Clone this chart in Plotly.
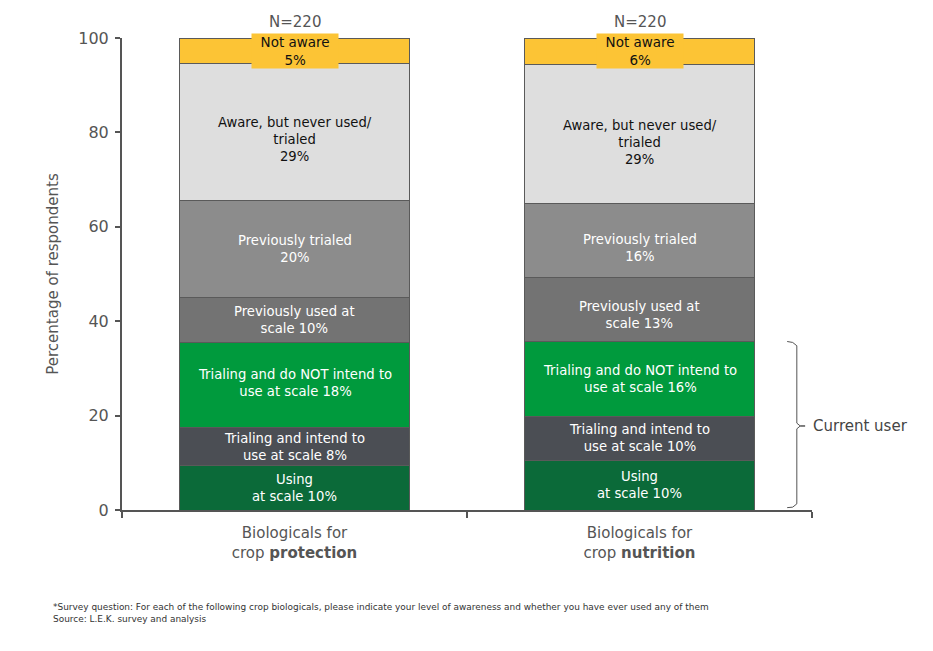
import plotly.graph_objects as go
import numpy as np

categories = ["Biologicals for<br>crop <b>protection</b>", "Biologicals for<br>crop <b>nutrition</b>"]
series_names = ["Using at scale", "Trialing and intend to use at scale",
                "Trialing and do NOT intend to use at scale", "Previously used at scale",
                "Previously trialed", "Aware, but never used/trialed", "Not aware"]
protection = [9.5, 7.9, 18.0, 9.7, 20.4, 29.2, 5.3]
nutrition = [10.4, 9.5, 15.7, 13.6, 15.8, 29.3, 5.7]
protection_labels = ["Using<br>at scale 10%", "Trialing and intend to<br>use at scale 8%",
                     "Trialing and do NOT intend to<br>use at scale 18%", "Previously used at<br>scale 10%",
                     "Previously trialed<br>20%", "Aware, but never used/<br>trialed<br>29%", "Not aware<br>5%"]
nutrition_labels = ["Using<br>at scale 10%", "Trialing and intend to<br>use at scale 10%",
                    "Trialing and do NOT intend to<br>use at scale 16%", "Previously used at<br>scale 13%",
                    "Previously trialed<br>16%", "Aware, but never used/<br>trialed<br>29%", "Not aware<br>6%"]
n_labels = ["N=220", "N=220"]

colors = ["#0b6a39", "#4b4e54", "#009a3d", "#737373", "#8c8c8c", "#dedede", "#fcc435"]
text_colors = ["white", "white", "white", "white", "white", "#111111", "#111111"]
# small vertical nudges (px) of segment labels, per bar
label_shift = [[0, 0, 2, 0, 0, -8, 0], [0, 0, 0, -5, -8, -8, 0]]

FONT = "DejaVu Sans"
fig = go.Figure()
for i, name in enumerate(series_names):
    fig.add_trace(go.Bar(
        x=categories, y=[protection[i], nutrition[i]], name=name,
        marker=dict(color=colors[i], line=dict(color="#5a5a5a", width=1)),
        hoverinfo="name+y",
    ))

annotations = []
for ci, (vals, labs) in enumerate([(protection, protection_labels), (nutrition, nutrition_labels)]):
    cum = np.cumsum([0] + vals)
    for i in range(len(vals)):
        mid = (cum[i] + cum[i + 1]) / 2
        ann = dict(x=categories[ci], y=mid, text=labs[i], showarrow=False,
                   yshift=-label_shift[ci][i] * -1,
                   font=dict(family=FONT, size=13.2, color=text_colors[i]), align="center")
        if i == 6:
            ann["text"] = labs[i].replace("Not aware", "&nbsp;&nbsp;Not aware&nbsp;&nbsp;")
            ann["bgcolor"] = colors[6]
            ann["borderpad"] = 0
            ann["font"]["size"] = 13.5
        annotations.append(ann)
    annotations.append(dict(x=categories[ci], y=cum[-1], text=n_labels[ci], showarrow=False,
                            yanchor="bottom", yshift=5,
                            font=dict(family=FONT, size=15, color="#555555")))

# Current user bracket (nutrition bar: first three segments)
cu_top = sum(nutrition[:3])
cu_mid = cu_top / 2
shapes = [dict(type="path", xref="paper", yref="y",
               path=f"M 0.964 {cu_top + 0.1} L 0.972 {cu_top - 0.1} L 0.978 {cu_top - 0.8} "
                    f"L 0.978 {cu_mid + 0.6} L 0.983 {cu_mid} L 0.990 {cu_mid} L 0.983 {cu_mid} "
                    f"L 0.978 {cu_mid - 0.6} L 0.978 {1.3} L 0.972 {0.6} L 0.964 {0.5}",
               line=dict(color="#555555", width=1))]
annotations.append(dict(xref="paper", yref="y", x=0.998, y=cu_mid, text="Current user",
                        showarrow=False, xanchor="left",
                        font=dict(family=FONT, size=15, color="#444444")))

annotations.append(dict(xref="paper", yref="paper", x=-0.1025, y=-0.19, xanchor="left", yanchor="top",
                        align="left", showarrow=False,
                        text="*Survey question: For each of the following crop biologicals, please indicate your level of awareness and whether you have ever used any of them<br>Source: L.E.K. survey and analysis",
                        font=dict(family=FONT, size=8.95, color="#333333")))

fig.update_layout(
    width=925, height=643, barmode="stack", bargap=1/3,
    margin=dict(l=114, r=121, t=30, b=141),
    plot_bgcolor="white", paper_bgcolor="white", showlegend=False,
    font=dict(family=FONT, color="#555555"),
    annotations=annotations, shapes=shapes,
    xaxis=dict(showline=True, linecolor="#555555", linewidth=2, ticks="outside",
               tickson="boundaries", ticklen=6, tickcolor="#555555", tickwidth=2,
               ticklabelstandoff=8,
               tickfont=dict(family=FONT, size=15, color="#555555")),
    yaxis=dict(range=[0, 100], tickvals=[0, 20, 40, 60, 80, 100], showline=True,
               linecolor="#555555", linewidth=2, ticks="outside", ticklen=5,
               tickcolor="#555555", tickwidth=2, showgrid=False, zeroline=False,
               ticklabelstandoff=3,
               tickfont=dict(family=FONT, size=16, color="#555555"),
               title=dict(text="Percentage of respondents", standoff=16,
                          font=dict(family=FONT, size=15, color="#555555"))),
)
fig.write_html("out.html")
